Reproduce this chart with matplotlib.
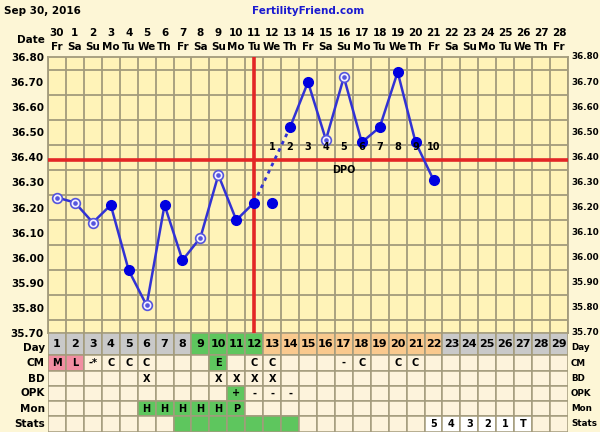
import numpy as np
import matplotlib
matplotlib.use("Agg")
from matplotlib import pyplot as plt
from matplotlib.patches import Rectangle
from matplotlib.transforms import blended_transform_factory

# ---- data ----
cycle_days = np.arange(1, 30)
dates = [30] + list(range(1, 29))
weekdays = (["Fr", "Sa", "Su", "Mo", "Tu", "We", "Th"] * 5)[:29]

temp_days = np.arange(1, 23)
temps = [36.24, 36.22, 36.14, 36.21, 35.95, 35.81, 36.21, 35.99, 36.08, 36.33,
         36.15, 36.22, 36.22, 36.52, 36.70, 36.47, 36.72, 36.46, 36.52, 36.74,
         36.46, 36.31]
open_days = [1, 2, 3, 6, 9, 10, 16, 17]
solid_runs = [(1, 12), (14, 22)]
dotted_run = (12, 14)
coverline = 36.39
ovulation_day = 12
dpo_days = np.arange(13, 23)
dpo_labels = [str(i) for i in range(1, 11)]

day_colors = {d: "gray" for d in range(1, 9)}
day_colors.update({d: "green" for d in range(9, 13)})
day_colors.update({d: "orange" for d in range(13, 23)})
day_colors.update({d: "gray" for d in range(23, 30)})

row_names = ["Day", "CM", "BD", "OPK", "Mon", "Stats"]
cm = {1: ("M", "pink"), 2: ("L", "pink"), 3: ("-*", None), 4: ("C", None),
      5: ("C", None), 6: ("C", None), 10: ("E", "green"), 12: ("C", None),
      13: ("C", None), 17: ("-", None), 18: ("C", None), 20: ("C", None),
      21: ("C", None)}
bd = {6: ("X", None), 10: ("X", None), 11: ("X", None), 12: ("X", None),
      13: ("X", None)}
opk = {11: ("+", "green"), 12: ("-", None), 13: ("-", None), 14: ("-", None)}
mon = {6: ("H", "green"), 7: ("H", "green"), 8: ("H", "green"),
       9: ("H", "green"), 10: ("H", "green"), 11: ("P", "green")}
stats = {d: ("", "green") for d in range(8, 15)}
stats.update({22: ("5", "white"), 23: ("4", "white"), 24: ("3", "white"),
              25: ("2", "white"), 26: ("1", "white"), 27: ("T", "white")})

# ---- style ----
BG = "#fdf6d6"
PLOT_BG = "#fff3b8"
CELL_BG = "#fdf3dc"
GRID = "#a39b7c"
BLUE = "#3232d4"
RED = "#e32626"
COLORS = {"gray": "#c9c9c9", "green": "#5ec65e", "orange": "#f9c98e",
          "pink": "#f28ea2", "white": "#ffffff"}
FONT = dict(family="DejaVu Sans", weight="bold", size=7.5)
SMALL = {**FONT, "size": 7}
RFONT = {**FONT, "size": 6.3}

W, H = 600, 432
fig = plt.figure(figsize=(6, 4.32), dpi=100, facecolor=BG)

# temperature panel
left, right, top, bottom = 48, 568, 57, 333
ax = fig.add_axes([left / W, 1 - bottom / H, (right - left) / W, (bottom - top) / H])
ax.set_facecolor(PLOT_BG)
ax.set_xlim(0.5, 29.5)
ax.set_ylim(35.70, 36.80)
ax.set_xticks(np.arange(0.5, 29.6, 1), minor=True)
ax.set_xticks([])
yt = np.round(np.arange(35.70, 36.81, 0.1), 2)
ax.set_yticks(yt)
ax.set_yticks(np.arange(35.70, 36.81, 0.05), minor=True)
ax.set_yticklabels([f"{v:.2f}" for v in yt], **FONT)
ax.tick_params(axis="y", which="both", length=0, pad=3)
ax.tick_params(axis="x", which="both", length=0)
ax.grid(which="minor", color=GRID, lw=1.3)
for s in ax.spines.values():
    s.set_color(GRID)
    s.set_linewidth(1.3)
# right-hand temperature labels
for v in yt:
    ax.text(29.5 + 3 / 17.93, v, f"{v:.2f}", ha="left", va="center",
            clip_on=False, **RFONT)

ax.axhline(coverline, color=RED, lw=2.6, zorder=3)
ax.axvline(ovulation_day, color=RED, lw=2.6, zorder=3)

t = dict(zip(temp_days, temps))
for a, b in solid_runs:
    xs = np.arange(a, b + 1)
    ax.plot(xs, [t[d] for d in xs], color=BLUE, lw=1.8, zorder=4)
ax.plot(dotted_run, [t[d] for d in dotted_run], color=BLUE, lw=2,
        ls=(0, (1.3, 1.6)), zorder=4)

filled = [d for d in temp_days if d not in open_days]
ax.plot(filled, [t[d] for d in filled], "o", color="#0000e0", ms=7, zorder=5)
ax.plot(open_days, [t[d] for d in open_days], "o", mfc="#f4f0ff", mec="#5555dd",
        mew=1.2, ms=7, zorder=5)
ax.plot(open_days, [t[d] for d in open_days], "o", color="#5555dd", ms=2.3, zorder=6)

for d, lab in zip(dpo_days, dpo_labels):
    ax.text(d, coverline + 0.03, lab, ha="center", va="bottom", zorder=6, **SMALL)
ax.text(17, coverline - 0.02, "DPO", ha="center", va="top", zorder=6, **SMALL)

# date header
tr = blended_transform_factory(ax.transData, ax.transAxes)
ph = bottom - top
for d, n, w in zip(cycle_days, dates, weekdays):
    ax.text(d, 1 + (top - 33) / ph, str(n), transform=tr, ha="center", va="center", **FONT)
    ax.text(d, 1 + (top - 47) / ph, w, transform=tr, ha="center", va="center", **FONT)
ax.text(0.32, 1 + (top - 40) / ph, "Date", transform=tr, ha="right", va="center", **FONT)

fig.text(4 / W, 1 - 11 / H, "Sep 30, 2016", ha="left", va="center", **FONT)
fig.text(308 / W, 1 - 11 / H, "FertilityFriend.com", ha="center", va="center",
         color="#1a1ad0", **FONT)

# chart table
row_h = [22, 16, 15, 15, 15, 16]
edges = np.concatenate([[0], np.cumsum(row_h)])
tb = fig.add_axes([left / W, 0, (right - left) / W, edges[-1] / H])
tb.set_xlim(0.5, 29.5)
tb.set_ylim(edges[-1], 0)
tb.axis("off")

rows = [{d: (str(d), day_colors[d]) for d in cycle_days}, cm, bd, opk, mon, stats]
for r, (name, content) in enumerate(zip(row_names, rows)):
    y0, y1 = edges[r], edges[r + 1]
    for d in cycle_days:
        lab, col = content.get(d, ("", None))
        fc = COLORS[col] if col else CELL_BG
        tb.add_patch(Rectangle((d - 0.5, y0), 1, y1 - y0, fc=fc, ec=GRID, lw=1.1))
        if lab:
            fs = 8 if r == 0 else 7
            tb.text(d, (y0 + y1) / 2, lab, ha="center", va="center",
                    **{**FONT, "size": fs})
    ymid = (y0 + y1) / 2 + (4 if r == 0 else 0)
    tb.text(0.32, ymid, name, ha="right", va="center", clip_on=False, **FONT)
    tb.text(29.5 + 3 / 17.93, ymid, name, ha="left", va="center",
            clip_on=False, **RFONT)

fig.savefig("out.png", dpi=100, facecolor=BG)
